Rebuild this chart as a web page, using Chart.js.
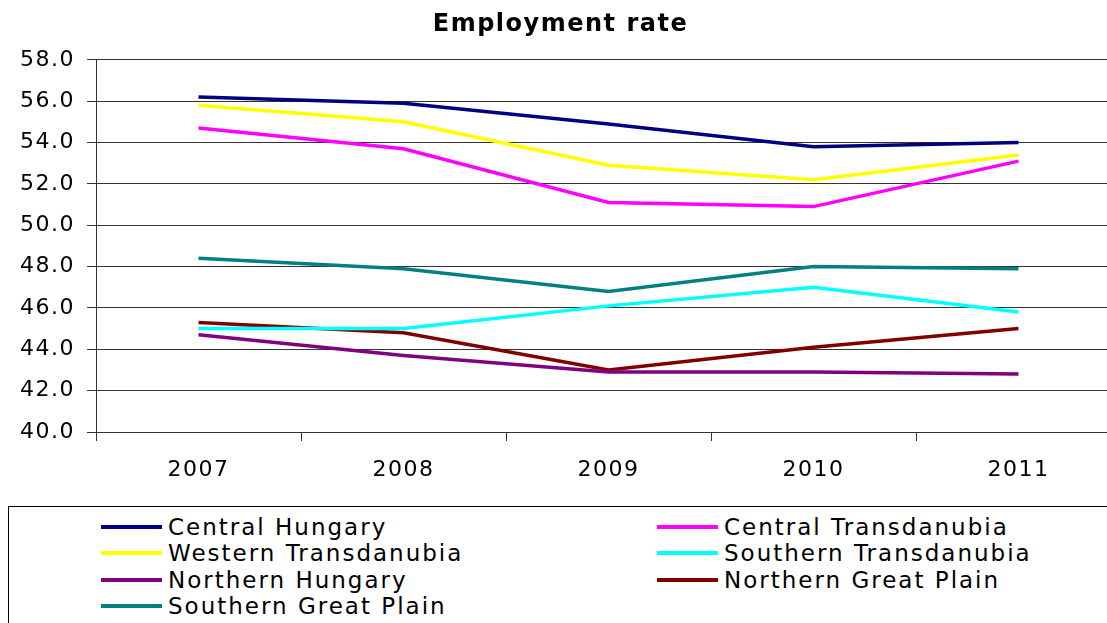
<!DOCTYPE html>
<html lang="en">
<head>
<meta charset="UTF-8">
<title>Employment rate</title>
<script src="https://cdn.jsdelivr.net/npm/chart.js@4.4.0/dist/chart.umd.min.js"></script>
<style>
  html, body { margin: 0; padding: 0; background: #fff; overflow: hidden; width: 1107px; height: 623px; }
  #wrap { position: absolute; left: 0; top: 0; width: 1121px; height: 500px; }
  #legend { position: absolute; left: 8px; top: 506px; width: 1120px; height: 140px; border: 1px solid #000; box-sizing: border-box; }
  .item { position: absolute; height: 26px; display: flex; align-items: center; font: 23px "DejaVu Sans", sans-serif; letter-spacing: 2px; color: #000; white-space: nowrap; }
  .item .swatch { width: 61px; height: 4px; margin-right: 6px; }
</style>
</head>
<body>
<div id="wrap"><canvas id="chart" width="1121" height="500"></canvas></div>
<div id="legend"></div>
<script>
// --- data ---
const years = ["2007", "2008", "2009", "2010", "2011"];
const regions = [
  "Central Hungary", "Central Transdanubia",
  "Western Transdanubia", "Southern Transdanubia",
  "Northern Hungary", "Northern Great Plain",
  "Southern Great Plain"
];
const centralHungary = [56.2, 55.9, 54.9, 53.8, 54.0];
const centralTransdanubia = [54.7, 53.7, 51.1, 50.9, 53.1];
const westernTransdanubia = [55.8, 55.0, 52.9, 52.2, 53.4];
const southernTransdanubia = [45.0, 45.0, 46.1, 47.0, 45.8];
const northernHungary = [44.7, 43.7, 42.9, 42.9, 42.8];
const northernGreatPlain = [45.3, 44.8, 43.0, 44.1, 45.0];
const southernGreatPlain = [48.4, 47.9, 46.8, 48.0, 47.9];
const colors = ["#000080", "#FF00FF", "#FFFF00", "#00FFFF", "#800080", "#800000", "#008080"];
const yTicks = { min: 40, max: 58, step: 2 };

const series = [centralHungary, centralTransdanubia, westernTransdanubia, southernTransdanubia,
  northernHungary, northernGreatPlain, southernGreatPlain];

// canvas letter spacing so the text width is closer to the original
const spacing = {
  id: "spacing",
  beforeUpdate(chart) { chart.ctx.letterSpacing = "1.5px"; },
  beforeDraw(chart) { chart.ctx.letterSpacing = "1.5px"; }
};

const chart = new Chart(document.getElementById("chart"), {
  type: "line",
  data: {
    labels: years,
    datasets: regions.map((name, i) => ({
      label: name,
      data: series[i],
      borderColor: colors[i],
      backgroundColor: colors[i],
      borderWidth: 3.5,
      pointRadius: 0,
      tension: 0,
    }))
  },
  plugins: [spacing],
  options: {
    responsive: false,
    animation: false,
    layout: { padding: 0 },
    plugins: {
      legend: { display: false },
      tooltip: { enabled: false },
      title: {
        display: true,
        text: "Employment rate",
        color: "#000",
        font: { family: "DejaVu Sans", size: 24, weight: "bold" },
        padding: { top: 10, bottom: 21 }
      }
    },
    scales: {
      x: {
        offset: true,
        grid: { display: true, drawOnChartArea: false, drawTicks: true, tickLength: 9, color: "#333", offset: true },
        border: { display: true, color: "#333", width: 1 },
        ticks: { color: "#000", padding: 16, maxRotation: 0, font: { family: "DejaVu Sans", size: 22 } },
        afterFit: (s) => { s.height = 68; }
      },
      y: {
        min: yTicks.min,
        max: yTicks.max,
        grid: { color: "#333", lineWidth: 1, tickLength: 9 },
        border: { display: true, color: "#333", width: 1 },
        ticks: {
          stepSize: yTicks.step,
          color: "#000",
          padding: 12,
          font: { family: "DejaVu Sans", size: 22 },
          callback: (v) => v.toFixed(1)
        },
        afterFit: (s) => { s.width = 96; }
      }
    }
  }
});

// --- legend in the boxed two-column layout ---
const legend = document.getElementById("legend");
chart.data.datasets.forEach((ds, i) => {
  const row = Math.floor(i / 2), col = i % 2;
  const el = document.createElement("div");
  el.className = "item";
  el.style.left = (92 + col * 556) + "px";
  el.style.top = (7 + row * 26.4) + "px";
  const sw = document.createElement("span");
  sw.className = "swatch";
  sw.style.background = ds.borderColor;
  const tx = document.createElement("span");
  tx.textContent = ds.label;
  el.appendChild(sw);
  el.appendChild(tx);
  legend.appendChild(el);
});
</script>
</body>
</html>
